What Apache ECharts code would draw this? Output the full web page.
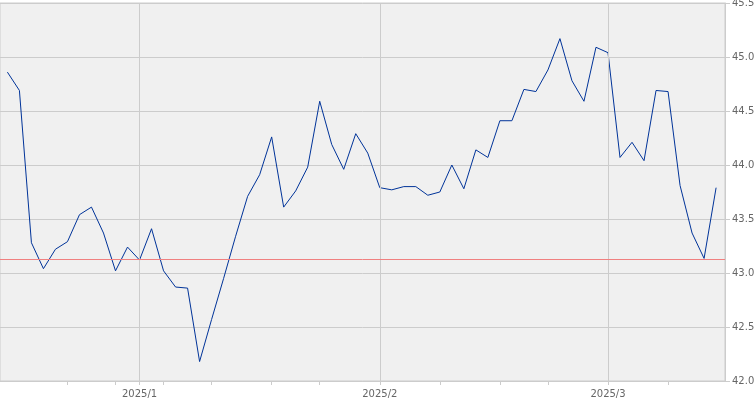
<!DOCTYPE html>
<html>
<head>
<meta charset="utf-8">
<script src="https://cdn.jsdelivr.net/npm/echarts@6/dist/echarts.min.js"></script>
<style>html,body{margin:0;padding:0;background:#fff;}#c{width:755px;height:400px;}</style>
</head>
<body>
<div id="c"></div>
<script>
// trading dates
const dates = [
  '2024-12-16','2024-12-17','2024-12-18','2024-12-19','2024-12-20','2024-12-23','2024-12-24','2024-12-26','2024-12-27','2024-12-30','2024-12-31',
  '2025-01-02','2025-01-03','2025-01-06','2025-01-07','2025-01-08','2025-01-10','2025-01-13','2025-01-14','2025-01-15','2025-01-16','2025-01-17',
  '2025-01-21','2025-01-22','2025-01-23','2025-01-24','2025-01-27','2025-01-28','2025-01-29','2025-01-30','2025-01-31',
  '2025-02-03','2025-02-04','2025-02-05','2025-02-06','2025-02-07','2025-02-10','2025-02-11','2025-02-12','2025-02-13','2025-02-14',
  '2025-02-18','2025-02-19','2025-02-20','2025-02-21','2025-02-24','2025-02-25','2025-02-26','2025-02-27','2025-02-28',
  '2025-03-03','2025-03-04','2025-03-05','2025-03-06','2025-03-07','2025-03-10','2025-03-11','2025-03-12','2025-03-13','2025-03-14'
];
const values = [
  44.86, 44.69, 43.28, 43.04, 43.22, 43.29, 43.54, 43.61, 43.37, 43.02, 43.24,
  43.12, 43.41, 43.02, 42.87, 42.86, 42.18, 42.57, 42.95, 43.34, 43.71, 43.91,
  44.26, 43.61, 43.76, 43.98, 44.59, 44.19, 43.96, 44.29, 44.11,
  43.79, 43.77, 43.80, 43.80, 43.72, 43.75, 44.00, 43.78, 44.14, 44.07,
  44.41, 44.41, 44.70, 44.68, 44.88, 45.17, 44.78, 44.59, 45.09, 45.04,
  44.07, 44.21, 44.04, 44.69, 44.68, 43.81, 43.37, 43.135, 43.79
];
const refLevel = 43.13;
const yTicks = [42.0, 42.5, 43.0, 43.5, 44.0, 44.5, 45.0, 45.5];
const monthLabels = ['2025/1', '2025/2', '2025/3'];

// derived: first trading day of each week / month
const weekStarts = [], monthStarts = [];
dates.forEach((d, i) => {
  if (i === 0) return;
  const cur = new Date(d + 'T00:00:00Z'), prev = new Date(dates[i-1] + 'T00:00:00Z');
  if (cur.getUTCDay() < prev.getUTCDay() || (cur - prev) >= 7 * 864e5) weekStarts.push(i);
  if (cur.getUTCMonth() !== prev.getUTCMonth()) monthStarts.push(i);
});
const tickIdx = Array.from(new Set(weekStarts.concat(monthStarts))).sort((a, b) => a - b);

const chart = echarts.init(document.getElementById('c'), null, {renderer: 'canvas'});
const font = '"DejaVu Sans", Verdana, sans-serif';
chart.setOption({
  animation: false,
  backgroundColor: '#ffffff',
  grid: {left: 0, top: 3, width: 725, height: 378, show: true, backgroundColor: '#f0f0f0', borderColor: '#cccccc', borderWidth: 1,
    containLabel: false, outerBoundsMode: 'none'},
  xAxis: {
    type: 'value', min: -0.616, max: 59.741,
    axisLine: {show: true, onZero: false, lineStyle: {color: '#cccccc'}},
    axisTick: {show: true, length: 4, customValues: tickIdx, lineStyle: {color: '#cccccc'}},
    axisLabel: {customValues: monthStarts, margin: 8, color: '#666666', fontFamily: font, fontSize: 10,
      formatter: v => monthLabels[monthStarts.indexOf(Math.round(v))] || ''},
    splitLine: {show: false}
  },
  yAxis: {
    type: 'value', position: 'right', min: yTicks[0], max: yTicks[yTicks.length - 1], interval: 0.5,
    axisLine: {show: true, onZero: false, lineStyle: {color: '#cccccc'}},
    axisTick: {show: true, length: 5, lineStyle: {color: '#cccccc'}},
    axisLabel: {margin: 7, color: '#666666', fontFamily: font, fontSize: 10, formatter: v => v.toFixed(1)},
    splitLine: {show: true, lineStyle: {color: '#cccccc', width: 1}}
  },
  series: [
    {
      type: 'line', data: [], z: 1, silent: true,
      markLine: {silent: true, symbol: 'none', label: {show: false}, animation: false,
        lineStyle: {color: '#cccccc', type: 'solid', width: 1},
        data: monthStarts.map(i => ({xAxis: i}))}
    },
    {
      type: 'line', z: 3, showSymbol: false, symbol: 'none',
      data: values.map((v, i) => [i, v]),
      lineStyle: {color: '#003399', width: 1},
      markLine: {silent: true, symbol: 'none', label: {show: false}, animation: false,
        lineStyle: {color: '#f08080', type: 'solid', width: 1},
        data: [{yAxis: refLevel}]}
    }
  ]
});
</script>
</body>
</html>
